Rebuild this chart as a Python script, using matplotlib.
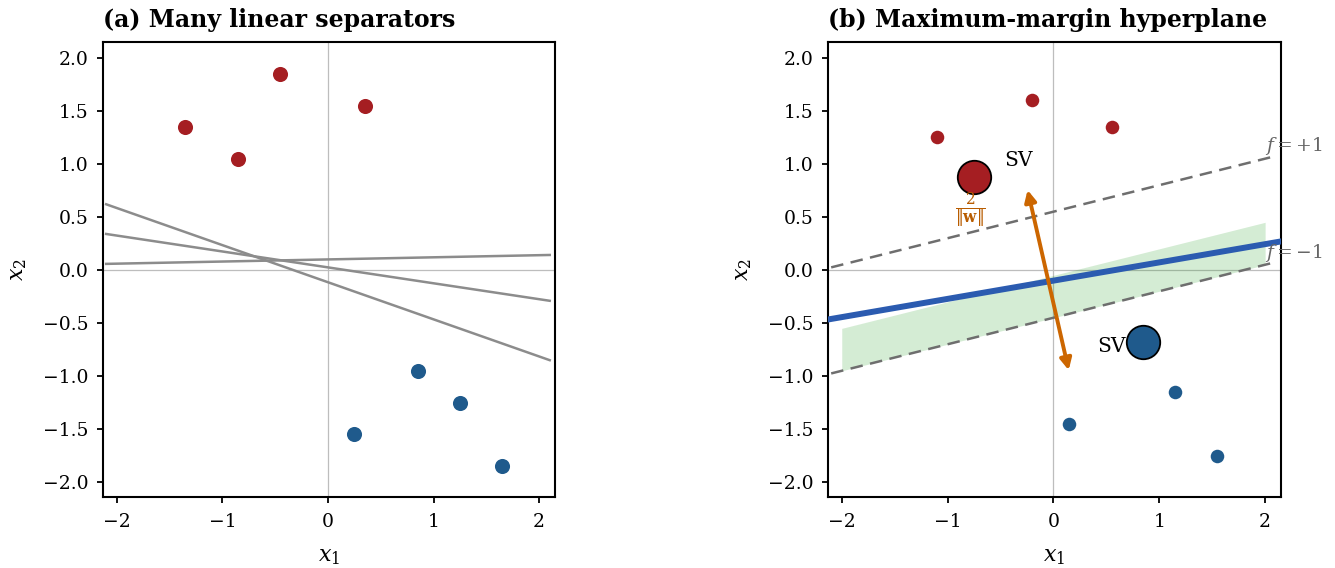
import numpy as np
import matplotlib
matplotlib.use("Agg")
import matplotlib.pyplot as plt

# panel (a) data
red_a_x = [-1.35, -0.85, -0.45, 0.35]
red_a_y = [1.35, 1.05, 1.85, 1.55]
blue_a_x = [0.25, 0.85, 1.25, 1.65]
blue_a_y = [-1.55, -0.95, -1.25, -1.85]
sep_slopes = [-0.35, -0.15, 0.02]
sep_icepts = [-0.115, 0.025, 0.10]

# panel (b) data
red_b_x = [-1.1, -0.2, 0.55]
red_b_y = [1.25, 1.6, 1.35]
blue_b_x = [0.15, 1.15, 1.55]
blue_b_y = [-1.45, -1.15, -1.75]
sv_red = (-0.75, 0.88)
sv_blue = (0.85, -0.68)
hyper_slope, hyper_icept = 0.172, -0.10
margin_slope = 0.25
margin_icepts = [0.55, -0.45]      # f=+1, f=-1
band_icepts = [-0.45, -0.05]
arrow_from = (-0.25, 0.78)
arrow_to = (0.15, -0.97)

RED = "#a51e22"
BLUE = "#1f5a8c"
HYP = "#2b5bb0"
ORANGE = "#cc6600"

plt.rcParams.update({"font.family": "DejaVu Serif", "mathtext.fontset": "dejavuserif",
                     "font.size": 13, "axes.linewidth": 1.5})

fig = plt.figure(figsize=(13.35, 5.68), dpi=100)
axa = fig.add_axes([103 / 1335, 71 / 568, 452 / 1335, 455 / 568])
axb = fig.add_axes([828 / 1335, 71 / 568, 453 / 1335, 455 / 568])

for ax in (axa, axb):
    ax.axhline(0, color="#bdbdbd", lw=0.9, zorder=0)
    ax.axvline(0, color="#bdbdbd", lw=0.9, zorder=0)
    ax.set_xlim(-2.13, 2.15); ax.set_ylim(-2.14, 2.15)
    ax.set_xticks([-2, -1, 0, 1, 2])
    ax.set_yticks(np.arange(-2.0, 2.01, 0.5))
    ax.set_yticklabels([f"{v:.1f}".replace("-", "\u2212") for v in np.arange(-2.0, 2.01, 0.5)])
    ax.set_xticklabels(["\u22122", "\u22121", "0", "1", "2"])
    ax.tick_params(labelsize=13.5, width=1.3, length=4.5)
    ax.tick_params(axis="x", pad=7)
    ax.tick_params(axis="y", pad=6)
    ax.set_xlabel(r"$x_1$", fontsize=16, labelpad=10)
    ax.set_ylabel(r"$x_2$", fontsize=16, labelpad=10)

# (a)
xs = np.array([-2.1, 2.1])
for m, b in zip(sep_slopes, sep_icepts):
    axa.plot(xs, m * xs + b, color="#8c8c8c", lw=1.8, zorder=2)
axa.scatter(red_a_x, red_a_y, s=118, color=RED, zorder=3, linewidths=0)
axa.scatter(blue_a_x, blue_a_y, s=118, color=BLUE, zorder=3, linewidths=0)
axa.set_title("(a) Many linear separators", loc="left", fontsize=17, fontweight="bold", pad=11)

# (b)
xb = np.array([-2.1, 2.1])
xf = np.array([-2.0, 2.0])
axb.fill_between(xf, margin_slope * xf + band_icepts[0], margin_slope * xf + band_icepts[1],
                 color="#2ca02c", alpha=0.2, lw=0, zorder=1)
for b in margin_icepts:
    axb.plot(xb, margin_slope * xb + b, ls=(0, (5, 3)), color="#6e6e6e", lw=1.8, zorder=2)
xh = np.array([-2.2, 2.2])
axb.plot(xh, hyper_slope * xh + hyper_icept, color=HYP, lw=4.3, zorder=3)
axb.scatter(red_b_x, red_b_y, s=95, color=RED, zorder=4, linewidths=0)
axb.scatter(blue_b_x, blue_b_y, s=95, color=BLUE, zorder=4, linewidths=0)
axb.scatter([sv_red[0]], [sv_red[1]], s=580, color=RED, edgecolors="black", linewidths=1.3, zorder=5)
axb.scatter([sv_blue[0]], [sv_blue[1]], s=580, color=BLUE, edgecolors="black", linewidths=1.3, zorder=5)
axb.text(-0.33, 1.03, "SV", fontsize=14.5, ha="center", va="center", zorder=6)
axb.text(0.68, -0.72, "SV", fontsize=14.5, ha="right", va="center", zorder=6)
axb.annotate("", xy=arrow_from, xytext=arrow_to,
             arrowprops=dict(arrowstyle="<|-|>", color=ORANGE, lw=2.8, mutation_scale=17), zorder=6)
axb.text(-0.78, 0.56, r"$\frac{2}{\|\mathbf{w}\|}$", fontsize=16, color="#b85c00",
         ha="center", va="center", zorder=6)
axb.text(2.0, 1.17, r"$f=+1$", fontsize=13.5, color="#666666", ha="left", va="center", clip_on=False, zorder=7)
axb.text(2.0, 0.16, r"$f=-1$", fontsize=13.5, color="#666666", ha="left", va="center", clip_on=False, zorder=7)
axb.set_title("(b) Maximum-margin hyperplane", loc="left", fontsize=17, fontweight="bold", pad=11)

fig.savefig("out.png", dpi=100)
